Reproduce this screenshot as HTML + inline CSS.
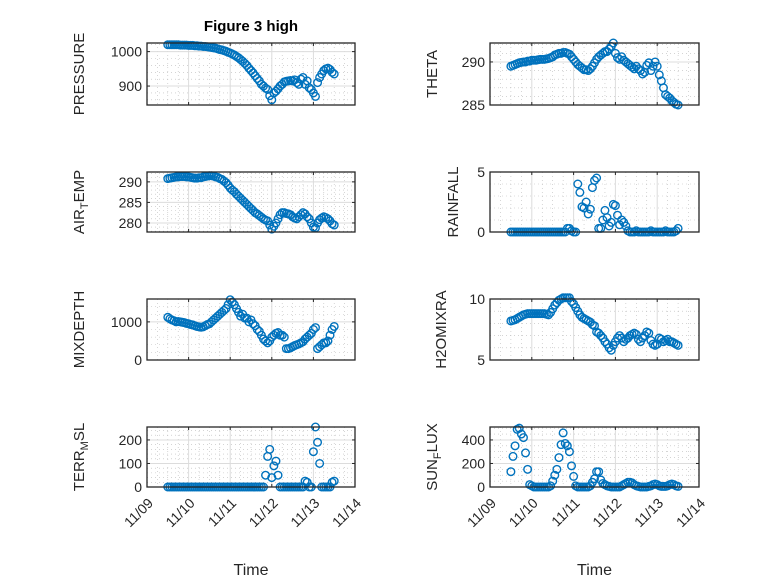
<!DOCTYPE html>
<html><head><meta charset="utf-8"><style>
body{margin:0;background:#fff}
svg{display:block;font-family:"Liberation Sans",sans-serif}
</style></head><body>
<svg id="fig" width="778" height="583" viewBox="0 0 778 583" xmlns="http://www.w3.org/2000/svg">
<rect width="778" height="583" fill="#fff"/>
<text x="251" y="31" text-anchor="middle" font-weight="bold" font-size="15" fill="#000">Figure 3 high</text>
</svg>
<script>
const tStart = 0.5, tStep = 0.05;
const xTickLabels = ["11/09","11/10","11/11","11/12","11/13","11/14"];
const pressure = [1020,1020,1020,1020,1020,1020,1019,1019,1019,1019,1018,1018,1018,1017,1017,1016,1016,1015,1015,1014,1013,1012,1011,1010,1008,1006,1005,1003,1001,998,996,993,990,986,982,977,972,966,960,952,945,938,930,922,915,905,900,894,890,872,860,880,885,892,900,905,912,914,915,916,915,918,910,905,920,925,905,915,895,890,880,870,910,925,935,945,950,952,948,940,935];
const theta = [289.5,289.6,289.7,289.8,289.9,289.95,290,290,290.1,290.1,290.2,290.2,290.2,290.25,290.3,290.3,290.3,290.35,290.4,290.5,290.6,290.8,290.9,291,291,291.1,291.1,291,290.9,290.6,290.3,290,289.7,289.5,289.3,289.1,289.1,289,289.2,289.5,289.9,290.3,290.6,290.8,291,291.2,291.2,291.5,291.8,292.2,291,290.5,290.3,290.6,290.2,290,289.8,289.6,289.4,289.2,289.5,289.2,289,288.6,288.8,289.6,289.9,289,289.5,290,289.5,288.5,287.8,287,286.2,286,285.8,285.5,285.3,285.1,285];
const airTemp = [290.8,290.9,291,291.1,291.2,291.2,291.3,291.3,291.3,291.2,291.2,291.1,291,290.9,290.9,291,291,291.2,291.3,291.4,291.5,291.5,291.4,291.2,291.1,290.8,290.6,290.2,289.8,289.2,288.5,288,287.6,287,286.5,286,285.5,285,284.5,284,283.5,283,282.5,282.2,281.8,281.4,281,280.7,280.5,279.5,278.5,279.2,280,281,282,282.5,282.5,282.3,282.2,282,281.5,281.2,281,281.5,282,282.5,282.2,281.5,281,280,279,278.8,280,280.8,281.2,281.5,281.3,281,280.5,279.8,279.5];
const rainfall = [0,0,0,0,0,0,0,0,0,0,0,0,0,0,0,0,0,0,0,0,0,0,0,0,0,0,0,0.3,0.3,0.1,0,0,4.0,3.3,2.1,2.0,2.5,1.5,1.9,3.7,4.3,4.5,0.3,0.3,1.0,1.8,1.2,0.5,0.8,2.3,2.2,1.4,0.6,1.0,0.8,0.5,0.1,0,0,0,0.1,0,0,0,0,0,0,0.1,0,0,0,0,0,0,0.1,0,0,0,0,0.1,0.3];
const mixDepth = [1120,1080,1050,1030,1000,1010,1000,990,980,960,950,930,920,900,880,870,860,870,900,930,950,1000,1050,1100,1150,1200,1250,1300,1350,1450,1580,1520,1450,1350,1250,1150,1200,1100,1100,1000,1050,950,900,800,750,650,550,500,450,500,600,650,700,720,650,650,600,300,300,320,350,380,400,420,450,480,550,600,650,700,800,850,300,350,400,450,450,500,650,800,880];
const h2oMix = [8.2,8.25,8.3,8.4,8.5,8.6,8.7,8.75,8.8,8.8,8.8,8.8,8.8,8.8,8.8,8.8,8.8,8.75,8.7,8.9,9.2,9.5,9.7,9.9,10,10.1,10.1,10.1,10.1,9.8,9.6,9.3,9,8.7,8.5,8.4,8.3,8.2,8.1,7.9,7.8,7.3,7.2,7,6.8,6.5,6.3,6,5.8,6.2,6.5,6.8,7,6.8,6.5,6.7,6.8,7,7.1,7.2,7.1,6.7,6.5,6.8,7,7.3,7.2,6.6,6.3,6.2,6.3,6.8,6.7,6.5,6.6,6.7,6.5,6.5,6.4,6.3,6.2];
const terrMsl = [0,0,0,0,0,0,0,0,0,0,0,0,0,0,0,0,0,0,0,0,0,0,0,0,0,0,0,0,0,0,0,0,0,0,0,0,0,0,0,0,0,0,0,0,0,0,0,50,130,160,40,90,110,50,0,0,0,0,0,0,0,0,0,0,0,0,25,20,0,0,150,255,190,100,0,0,0,0,0,20,25];
const sunFlux = [130,260,350,490,500,450,420,290,150,20,10,0,0,0,0,0,0,0,0,10,50,100,150,250,360,460,370,350,300,180,90,10,0,0,0,0,0,0,10,40,70,130,130,60,30,20,10,5,0,0,0,0,0,10,20,30,40,40,35,20,10,5,0,0,0,0,5,10,20,25,20,10,5,5,5,10,20,25,20,10,5];

const NS="http://www.w3.org/2000/svg";
const svg=document.getElementById('fig');
function mk(tag,attrs,parent){const e=document.createElementNS(NS,tag);for(const k in attrs)e.setAttribute(k,attrs[k]);(parent||svg).appendChild(e);return e;}

const colsX=[[147,355],[490,699]];
const rowsY=[[43,105],[172,232],[299,360],[427,487]];
const panels=[
 {name:'pressure',data:pressure,col:0,row:0,y0:845,y1:1025,ticks:[900,1000],minor:20,label:[['PRESSURE']],lx:84},
 {name:'theta',data:theta,col:1,row:0,y0:285,y1:292.2,ticks:[285,290],minor:1,label:[['THETA']],lx:437},
 {name:'air-temp',data:airTemp,col:0,row:1,y0:277.8,y1:292.4,ticks:[280,285,290],minor:1,label:[['AIR'],['T','sub'],['EMP']],lx:84},
 {name:'rainfall',data:rainfall,col:1,row:1,y0:0,y1:5,ticks:[0,5],minor:1,label:[['RAINFALL']],lx:458},
 {name:'mixdepth',data:mixDepth,col:0,row:2,y0:0,y1:1600,ticks:[0,1000],minor:200,label:[['MIXDEPTH']],lx:84},
 {name:'h2omixra',data:h2oMix,col:1,row:2,y0:5,y1:10,ticks:[5,10],minor:1,label:[['H2OMIXRA']],lx:446},
 {name:'terr-msl',data:terrMsl,col:0,row:3,y0:0,y1:255,ticks:[0,100,200],minor:20,label:[['TERR'],['M','sub'],['SL']],lx:84},
 {name:'sun-flux',data:sunFlux,col:1,row:3,y0:0,y1:510,ticks:[0,200,400],minor:50,label:[['SUN'],['F','sub'],['LUX']],lx:437}
];

panels.forEach(p=>{
 const [xl,xr]=colsX[p.col],[yt,yb]=rowsY[p.row];
 const xS=t=>xl+(t/5)*(xr-xl);
 const yS=v=>yb-(v-p.y0)/(p.y1-p.y0)*(yb-yt);
 const g=mk('g',{});
 
 
 mk('rect',{x:xl,y:yt,width:xr-xl,height:yb-yt,fill:'#fff'},g);
 for(let t=0.25;t<5;t+=0.25){if(Math.abs(t-Math.round(t))<1e-6)continue;mk('line',{x1:xS(t),x2:xS(t),y1:yt,y2:yb,stroke:'#bbb','stroke-width':0.6,'stroke-dasharray':'1 3'},g);}
 for(let v=Math.ceil(p.y0/p.minor)*p.minor;v<p.y1;v+=p.minor){if(p.ticks.some(k=>Math.abs(k-v)<1e-6))continue;mk('line',{x1:xl,x2:xr,y1:yS(v),y2:yS(v),stroke:'#bbb','stroke-width':0.6,'stroke-dasharray':'1 3'},g);}
 xTickLabels.forEach((lab,i)=>{const x=xS(i);
  mk('line',{x1:x,x2:x,y1:yt,y2:yb,stroke:'#dcdcdc','stroke-width':1},g);
  mk('line',{x1:x,x2:x,y1:yb,y2:yb-3,stroke:'#262626','stroke-width':1},g);
  mk('line',{x1:x,x2:x,y1:yt,y2:yt+3,stroke:'#262626','stroke-width':1},g);
  if(p.row===3){const ax=x+7,ay=yb+17;const tx=mk('text',{x:ax,y:ay,'text-anchor':'end','font-size':14,fill:'#262626',transform:`rotate(-45 ${ax} ${ay})`},g);tx.textContent=lab;
   
   }
 });
 p.ticks.forEach(v=>{const y=yS(v);
  mk('line',{x1:xl,x2:xr,y1:y,y2:y,stroke:'#dcdcdc','stroke-width':1},g);
  mk('line',{x1:xl,x2:xl+3,y1:y,y2:y,stroke:'#262626'},g);
  mk('line',{x1:xr,x2:xr-3,y1:y,y2:y,stroke:'#262626'},g);
  const tx=mk('text',{x:xl-5,y:y+5,'text-anchor':'end','font-size':14,fill:'#262626'},g);tx.textContent=String(v);
  
  
 });
 p.data.forEach((v,i)=>{const c=mk('circle',{cx:xS(tStart+i*tStep),cy:yS(v),r:3.8,fill:'none',stroke:'#0072BD','stroke-width':1.4},g);
  
  });
 mk('rect',{x:xl,y:yt,width:xr-xl,height:yb-yt,fill:'none',stroke:'#262626','stroke-width':1.3},g);
 const cy=(yt+yb)/2;
 const yl=mk('text',{x:p.lx,y:cy,'text-anchor':'middle','font-size':15,fill:'#262626',transform:`rotate(-90 ${p.lx} ${cy})`},g);
 
 
 p.label.forEach(([s,k])=>{const ts=mk('tspan',k?{'font-size':11,dy:4}:{dy:0},yl);ts.textContent=s;if(k){ts.setAttribute('data-after','1');}});
 const spans=yl.querySelectorAll('tspan');spans.forEach((s,i)=>{if(i>0&&spans[i-1].getAttribute('data-after'))s.setAttribute('dy',-4);});
 if(p.row===3){const xt=mk('text',{x:(xl+xr)/2,y:575,'text-anchor':'middle','font-size':16,fill:'#262626'},g);xt.textContent='Time';
  
  }
});
</script>
</body></html>
